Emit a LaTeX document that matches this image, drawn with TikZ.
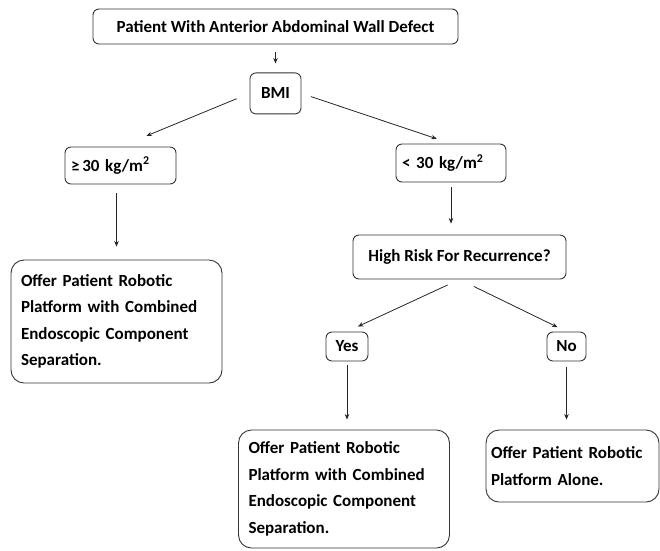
\documentclass[tikz,border=0pt]{standalone}
\usepackage{fontspec}
\setmainfont{Carlito}
\usetikzlibrary{arrows.meta}
\usetikzlibrary{positioning}

\begin{document}
\begin{tikzpicture}[x=1pt, y=-1pt,
    every node/.style={font=\fontsize{17}{26.5}\selectfont\bfseries},
    box/.style={draw=black!80, line width=0.9pt, rounded corners=6pt, inner sep=0pt},
    offer/.style={box, rounded corners=13pt, align=left, inner xsep=10pt, text width=191pt},
    arr/.style={-{Stealth[length=5.5pt, width=4.5pt]}, line width=0.8pt, black!85}]

    \useasboundingbox (0,0) rectangle (660,550);

    \node[box, minimum width=365pt, minimum height=35pt] (Patient) at (275.5,26.5) {Patient With Anterior Abdominal Wall Defect};
    \node[box, minimum width=51pt, minimum height=41pt] (BMI) [below=28pt of Patient] {BMI};

    \node[box, minimum height=37pt, text width=99pt, inner xsep=6pt, align=left] (HighBMI) at (120.5,165.5) {≥\,30 kg/m\textsuperscript{2}};
    \node[box, minimum height=38pt, text width=98pt, inner xsep=6pt, align=left] (LowBMI) at (451,163) {< 30 kg/m\textsuperscript{2}};

    \node[offer, minimum height=123pt] (OfferCombinedA) at (116.5,321.5) {Offer Patient Robotic\\ Platform with Combined\\ Endoscopic Component\\ Separation.};

    \node[box, minimum width=213pt, minimum height=44pt] (HighRisk) at (459.5,257) {High Risk For Recurrence?};
    \node[box, minimum width=42pt, minimum height=29pt] (Yes) at (347,346.5) {Yes};
    \node[box, minimum width=39pt, minimum height=29pt] (No) at (566.5,346.5) {No};

    \node[offer, minimum height=118pt] (OfferCombinedB) at (344,489) {Offer Patient Robotic\\ Platform with Combined\\ Endoscopic Component\\ Separation.};
    \node[offer, text width=163pt, inner xsep=5pt, minimum height=72pt] (OfferAlone) at (572.5,466) {Offer Patient Robotic\\ Platform Alone.};

    \draw[arr, shorten <=8pt, shorten >=9pt] (Patient) -- (BMI);
    \draw[arr, shorten <=14pt, shorten >=28pt] (BMI.west) -- (HighBMI.north);
    \draw[arr, shorten <=10pt, shorten >=15pt] (BMI.east) -- (LowBMI.north);
    \draw[arr, shorten <=9pt, shorten >=13pt] (OfferCombinedA.north |- HighBMI.south) -- (OfferCombinedA.north);
    \draw[arr, shorten <=5pt, shorten >=11pt] (LowBMI.south) -- (LowBMI.south |- HighRisk.north);
    \draw[arr, shorten <=13pt, shorten >=12pt] (HighRisk.south) -- (Yes.north);
    \draw[arr, shorten <=16pt, shorten >=10pt] (HighRisk.south) -- (No.north);
    \draw[arr, shorten <=4pt, shorten >=10pt] (Yes.south) -- (Yes.south |- OfferCombinedB.north);
    \draw[arr, shorten <=6pt, shorten >=10pt] (No.south) -- (No.south |- OfferAlone.north);

\end{tikzpicture}
\end{document}
